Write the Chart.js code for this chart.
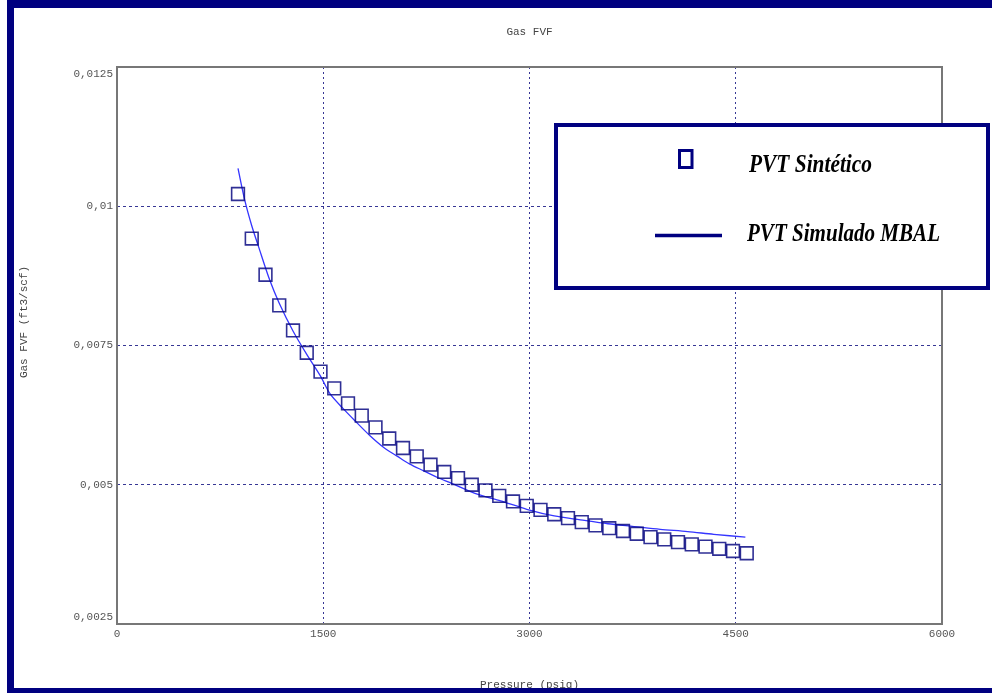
<!DOCTYPE html>
<html>
<head>
<meta charset="utf-8">
<script src="https://cdn.jsdelivr.net/npm/chart.js@4/dist/chart.umd.min.js"></script>
<style>
  body { margin: 0; background: #fff; }
  #wrap { position: relative; width: 992px; height: 693px; }
</style>
</head>
<body>
<div id="wrap"><canvas id="chart1" width="992" height="693"></canvas></div>
<script>
// synthetic PVT table (psig, ft3/scf)
const pressures = [880, 980, 1080, 1180, 1280, 1380, 1480, 1580, 1680, 1780,
  1880, 1980, 2080, 2180, 2280, 2380, 2480, 2580, 2680, 2780,
  2880, 2980, 3080, 3180, 3280, 3380, 3480, 3580, 3680, 3780,
  3880, 3980, 4080, 4180, 4280, 4380, 4480, 4580];
const fvfSynthetic = [0.01022, 0.00942, 0.00877, 0.00822, 0.00777, 0.00737, 0.00703, 0.00673, 0.00646, 0.00624,
  0.00603, 0.00583, 0.00566, 0.00551, 0.00536, 0.00523, 0.00512, 0.00500, 0.00490, 0.00480,
  0.00470, 0.00462, 0.00455, 0.00447, 0.00440, 0.00433, 0.00427, 0.00422, 0.00417, 0.00412,
  0.00406, 0.00402, 0.00397, 0.00393, 0.00389, 0.00385, 0.00381, 0.00377];

// MBAL curve
const mbalPressures = [880, 930, 980, 1030, 1110, 1180, 1280, 1380, 1480, 1550,
  1640, 1730, 1840, 1940, 2040, 2130, 2230, 2330, 2430, 2620,
  2790, 2980, 3180, 3370, 3570, 3760, 3950, 4150, 4340, 4570];
const fvfMbal = [0.01068, 0.01010, 0.00965, 0.00927, 0.00868, 0.00826, 0.00776, 0.00734, 0.00695, 0.00663,
  0.00638, 0.00615, 0.00588, 0.00567, 0.00551, 0.00537, 0.00525, 0.00513, 0.00503, 0.00483,
  0.00471, 0.00456, 0.00444, 0.00437, 0.00430, 0.00425, 0.00420, 0.00416, 0.00411, 0.00406];

const xTicks = [0, 1500, 3000, 4500, 6000];
const xTickLabels = ['0', '1500', '3000', '4500', '6000'];
const yTicks = [0.0025, 0.005, 0.0075, 0.01, 0.0125];
const yTickLabels = ['0,0025', '0,005', '0,0075', '0,01', '0,0125'];
const seriesNames = ['PVT Sintético', 'PVT Simulado MBAL'];

const navy = '#000080';
const monoFont = '11px "Liberation Mono", "DejaVu Sans Mono", monospace';

function gridColor(c, lo, hi) {
  if (!c.tick) return 'rgba(0,0,0,0)';
  const v = c.tick.value;
  if (Math.abs(v - lo) < 1e-9 || Math.abs(v - hi) < 1e-9) return 'rgba(0,0,0,0)';
  return 'rgba(20,20,130,0.85)';
}

const decorations = {
  id: 'decorations',
  afterDraw(chart) {
    const ctx = chart.ctx;
    const { left, right, top, bottom } = chart.chartArea;
    const xs = chart.scales.x, ys = chart.scales.y;
    ctx.save();

    // plot frame
    ctx.strokeStyle = '#777';
    ctx.lineWidth = 2;
    ctx.strokeRect(left, top, right - left, bottom - top);

    // tick labels
    ctx.font = monoFont;
    ctx.fillStyle = '#555';
    ctx.textBaseline = 'middle';
    ctx.textAlign = 'center';
    xTicks.forEach((v, i) => ctx.fillText(xTickLabels[i], xs.getPixelForValue(v), bottom + 10));
    ctx.textAlign = 'right';
    yTicks.forEach((v, i) => {
      let py = ys.getPixelForValue(v);
      if (i === 0) py -= 7;
      if (i === yTicks.length - 1) py += 7;
      ctx.fillText(yTickLabels[i], left - 4, py);
    });

    // titles
    ctx.fillStyle = '#444';
    ctx.textAlign = 'center';
    ctx.fillText('Gas FVF', (left + right) / 2, 32);
    ctx.fillText('Pressure (psig)', (left + right) / 2, 685);
    ctx.save();
    ctx.translate(24, 322);
    ctx.rotate(-Math.PI / 2);
    ctx.fillText('Gas FVF (ft3/scf)', 0, 0);
    ctx.restore();

    // legend box
    const sq = chart.data.datasets[0], ln = chart.data.datasets[1];
    ctx.fillStyle = '#fff';
    ctx.fillRect(556, 125, 432, 163);
    ctx.strokeStyle = navy;
    ctx.lineWidth = 4;
    ctx.strokeRect(556, 125, 432, 163);

    ctx.strokeStyle = navy;
    ctx.lineWidth = 3;
    ctx.strokeRect(679.5, 150.5, 12.5, 17);
    ctx.lineWidth = 3.5;
    ctx.beginPath();
    ctx.moveTo(655, 235.5);
    ctx.lineTo(722, 235.5);
    ctx.stroke();

    ctx.fillStyle = '#000';
    ctx.textAlign = 'left';
    ctx.textBaseline = 'alphabetic';
    ctx.font = 'italic bold 26px "Liberation Serif", "DejaVu Serif", serif';
    ctx.fillText(sq.label, 749, 172, 123);
    ctx.fillText(ln.label, 747, 241, 193);

    // outer frame
    ctx.fillStyle = navy;
    ctx.fillRect(7, 0, 985, 8);
    ctx.fillRect(7, 0, 7, 693);
    ctx.fillRect(7, 688, 985, 5);
    ctx.restore();
  }
};

document.addEventListener('DOMContentLoaded', function () {
  const chartCanvas = document.getElementById('chart1');

  new Chart(chartCanvas.getContext('2d'), {
    type: 'scatter',
    data: {
      datasets: [{
        label: seriesNames[0],
        data: pressures.map((p, i) => ({ x: p, y: fvfSynthetic[i] })),
        pointStyle: 'rect',
        pointRadius: 9,
        pointBorderWidth: 1.6,
        pointBorderColor: 'rgba(10,10,130,0.85)',
        pointBackgroundColor: 'rgba(0,0,0,0)',
        showLine: false,
      }, {
        label: seriesNames[1],
        data: mbalPressures.map((p, i) => ({ x: p, y: fvfMbal[i] })),
        showLine: true,
        borderColor: '#3535ff',
        borderWidth: 1.3,
        pointRadius: 0,
        tension: 0.3,
        fill: false,
      }]
    },
    options: {
      responsive: false,
      animation: false,
      layout: { padding: { left: 117, right: 50, top: 67, bottom: 69 } },
      plugins: {
        legend: { display: false },
        tooltip: { enabled: false }
      },
      scales: {
        x: {
          type: 'linear',
          min: 0,
          max: 6000,
          ticks: { display: false, stepSize: 1500 },
          grid: { color: c => gridColor(c, 0, 6000), drawTicks: false, lineWidth: 1 },
          border: { display: false, dash: [2, 3] },
          afterFit: s => { s.height = 0; }
        },
        y: {
          type: 'linear',
          min: 0.0025,
          max: 0.0125,
          ticks: { display: false, stepSize: 0.0025 },
          grid: { color: c => gridColor(c, 0.0025, 0.0125), drawTicks: false, lineWidth: 1 },
          border: { display: false, dash: [3, 3] },
          afterFit: s => { s.width = 0; }
        }
      }
    },
    plugins: [decorations]
  });
});
</script>
</body>
</html>
